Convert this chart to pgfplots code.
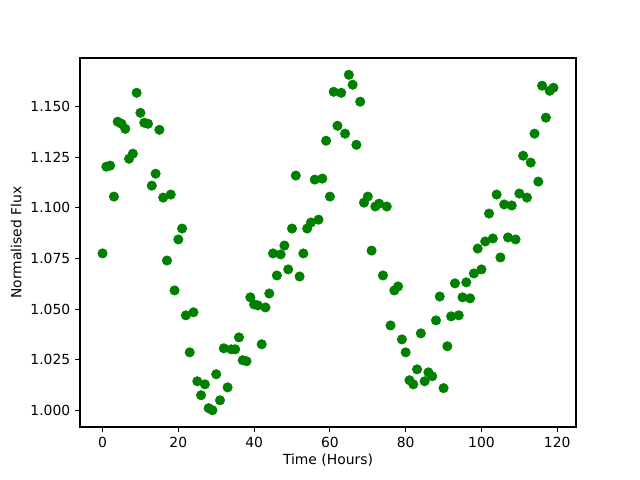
\documentclass[border=0pt]{standalone}
\usepackage{fontspec}
\setmainfont{DejaVu Sans}
\usepackage{pgfplots}
\pgfplotsset{compat=1.18}
\definecolor{mplgreen}{HTML}{008000}
\begin{document}
\begin{tikzpicture}
\useasboundingbox (-57.6pt,-38.16pt) rectangle (403.2pt,307.44pt);
\begin{axis}[
  at={(0pt,0pt)}, anchor=south west,
  scale only axis,
  width=357.12pt, height=265.68pt,
  xmin=-5.95, xmax=124.95,
  ymin=0.9917, ymax=1.1741,
  xtick={0,20,40,60,80,100,120},
  ytick={1.000,1.025,1.050,1.075,1.100,1.125,1.150},
  yticklabel style={/pgf/number format/.cd,fixed,fixed zerofill,precision=3},
  /pgf/number format/assume math mode=true,
  tick align=outside,
  xtick pos=lower, ytick pos=left,
  major tick length=3.5pt,
  every tick/.style={line width=0.8pt, black},
  axis line style={line width=0.8pt},
  tick label style={font=\fontsize{10}{12}\selectfont},
  label style={font=\fontsize{10}{12}\selectfont},
  xlabel={Time (Hours)},
  ylabel={Normalised Flux},
  xlabel style={yshift=2pt},
  ylabel style={yshift=-0.5pt},
]
\addplot[only marks, mark=*, mark size=3.4pt, color=mplgreen] table {
t v
0 1.0775
1 1.1204
2 1.1209
3 1.1056
4 1.1426
5 1.1416
6 1.1391
7 1.1243
8 1.1268
9 1.1569
10 1.1470
11 1.1421
12 1.1416
13 1.1110
14 1.1169
15 1.1386
16 1.1051
17 1.0740
18 1.1066
19 1.0592
20 1.0844
21 1.0898
22 1.0469
23 1.0286
24 1.0484
25 1.0143
26 1.0074
27 1.0128
28 1.0010
29 1.0000
30 1.0178
31 1.0049
32 1.0306
33 1.0113
34 1.0301
35 1.0301
36 1.0360
37 1.0247
38 1.0242
39 1.0558
40 1.0523
41 1.0518
42 1.0326
43 1.0508
44 1.0577
45 1.0775
46 1.0666
47 1.0770
48 1.0814
49 1.0696
50 1.0898
51 1.1160
52 1.0661
53 1.0775
54 1.0898
55 1.0928
56 1.1140
57 1.0942
58 1.1145
59 1.1332
60 1.1056
61 1.1574
62 1.1406
63 1.1569
64 1.1367
65 1.1658
66 1.1609
67 1.1312
68 1.1525
69 1.1026
70 1.1056
71 1.0789
72 1.1007
73 1.1021
74 1.0666
75 1.1007
76 1.0419
77 1.0592
78 1.0612
79 1.0350
80 1.0286
81 1.0148
82 1.0128
83 1.0202
84 1.0380
85 1.0143
86 1.0187
87 1.0168
88 1.0444
89 1.0562
90 1.0109
91 1.0316
92 1.0464
93 1.0627
94 1.0469
95 1.0558
96 1.0632
97 1.0553
98 1.0676
99 1.0799
100 1.0696
101 1.0834
102 1.0972
103 1.0849
104 1.1066
105 1.0755
106 1.1017
107 1.0854
108 1.1012
109 1.0844
110 1.1071
111 1.1258
112 1.1051
113 1.1224
114 1.1367
115 1.1130
116 1.1604
117 1.1446
118 1.1579
119 1.1594
};
\end{axis}
\end{tikzpicture}
\end{document}
